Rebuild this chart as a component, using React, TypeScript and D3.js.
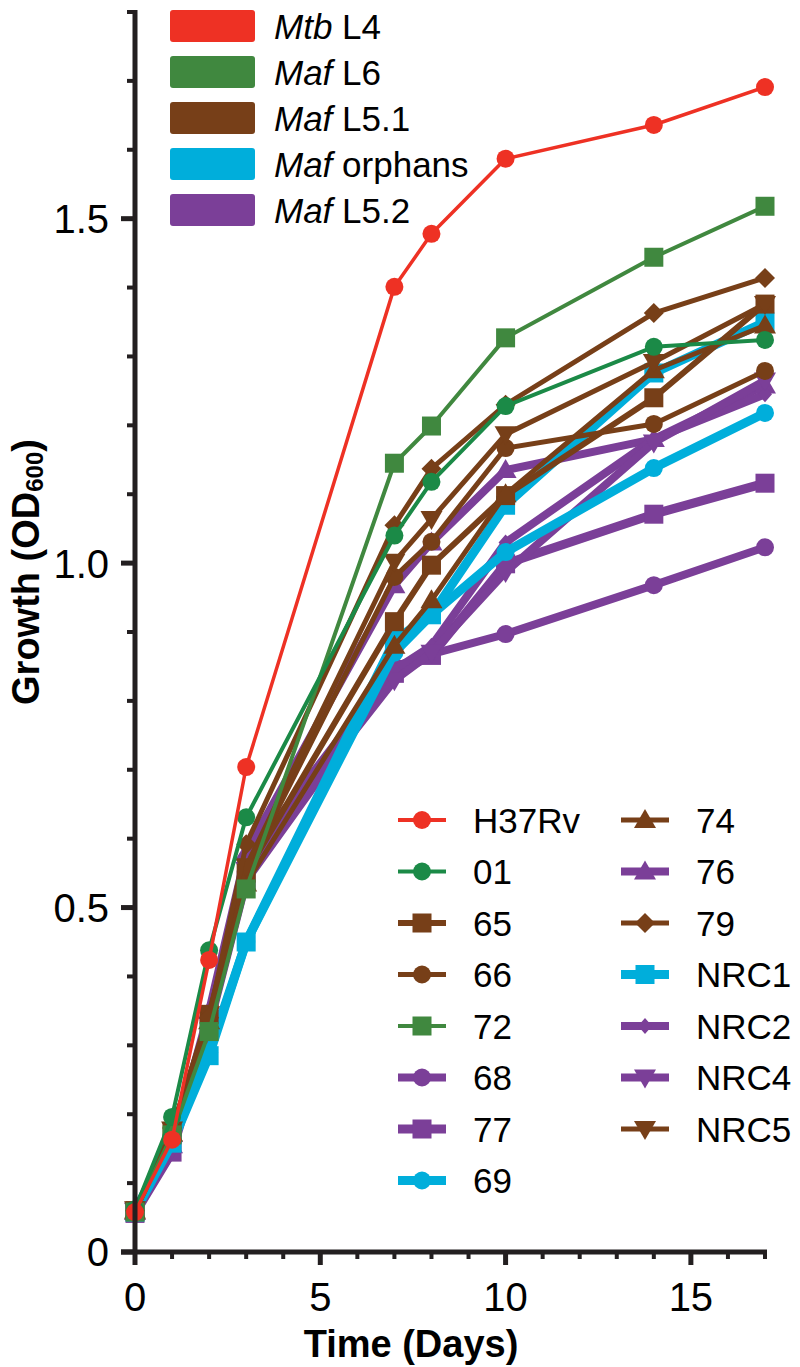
import React from 'react';
import * as d3 from 'd3';

// sampling days
const days = [0, 1, 2, 3, 7, 8, 10, 14, 17];

// OD600 readings per strain
const h37rv = [0.058, 0.163, 0.424, 0.704, 1.401, 1.478, 1.587, 1.636, 1.691];
const s01 = [0.062, 0.196, 0.438, 0.631, 1.04, 1.118, 1.228, 1.314, 1.324];
const s65 = [0.06, 0.175, 0.345, 0.55, 0.915, 0.997, 1.098, 1.24, 1.376];
const s66 = [0.06, 0.178, 0.34, 0.552, 0.98, 1.031, 1.167, 1.202, 1.279];
const s72 = [0.058, 0.17, 0.32, 0.527, 1.145, 1.199, 1.327, 1.444, 1.518];
const s68 = [0.058, 0.15, 0.335, 0.57, 0.85, 0.868, 0.897, 0.968, 1.023];
const s77 = [0.056, 0.145, 0.33, 0.54, 0.84, 0.866, 0.999, 1.071, 1.116];
const s69 = [0.06, 0.16, 0.29, 0.45, 0.87, 0.925, 1.016, 1.138, 1.218];
const s74 = [0.06, 0.172, 0.335, 0.535, 0.88, 0.946, 1.1, 1.28, 1.345];
const s76 = [0.058, 0.155, 0.35, 0.58, 0.968, 1.03, 1.135, 1.18, 1.258];
const s79 = [0.06, 0.18, 0.34, 0.592, 1.055, 1.137, 1.23, 1.363, 1.414];
const nrc1 = [0.058, 0.158, 0.285, 0.45, 0.888, 0.925, 1.084, 1.276, 1.35];
const nrc2 = [0.058, 0.15, 0.345, 0.56, 0.845, 0.88, 1.03, 1.18, 1.245];
const nrc4 = [0.06, 0.15, 0.34, 0.555, 0.83, 0.87, 0.987, 1.175, 1.265];
const nrc5 = [0.062, 0.178, 0.345, 0.56, 1.002, 1.064, 1.187, 1.292, 1.376];

const lineages = [
  { pre: 'Mtb', post: ' L4', color: '#ee3124' },
  { pre: 'Maf', post: ' L6', color: '#40883f' },
  { pre: 'Maf', post: ' L5.1', color: '#773f18' },
  { pre: 'Maf', post: ' orphans', color: '#00aedb' },
  { pre: 'Maf', post: ' L5.2', color: '#7b3f98' },
];

const C = {
  red: '#ee3124',
  green: '#1b8a47',
  green2: '#40883f',
  brown: '#773f18',
  cyan: '#00aedb',
  purple: '#7b3f98',
};

type Shape = 'circle' | 'square' | 'tri' | 'itri' | 'diamond' | 'sdiamond';
type Series = { name: string; values: number[]; color: string; shape: Shape; w: number };

const series: Series[] = [
  { name: 'H37Rv', values: h37rv, color: C.red, shape: 'circle', w: 3.5 },
  { name: '01', values: s01, color: C.green, shape: 'circle', w: 4 },
  { name: '65', values: s65, color: C.brown, shape: 'square', w: 6 },
  { name: '66', values: s66, color: C.brown, shape: 'circle', w: 5 },
  { name: '72', values: s72, color: C.green2, shape: 'square', w: 4 },
  { name: '68', values: s68, color: C.purple, shape: 'circle', w: 8 },
  { name: '77', values: s77, color: C.purple, shape: 'square', w: 9 },
  { name: '69', values: s69, color: C.cyan, shape: 'circle', w: 9 },
  { name: '74', values: s74, color: C.brown, shape: 'tri', w: 5 },
  { name: '76', values: s76, color: C.purple, shape: 'tri', w: 8 },
  { name: '79', values: s79, color: C.brown, shape: 'diamond', w: 5 },
  { name: 'NRC1', values: nrc1, color: C.cyan, shape: 'square', w: 9 },
  { name: 'NRC2', values: nrc2, color: C.purple, shape: 'sdiamond', w: 8 },
  { name: 'NRC4', values: nrc4, color: C.purple, shape: 'itri', w: 8 },
  { name: 'NRC5', values: nrc5, color: C.brown, shape: 'itri', w: 5 },
];

// draw order: purple / cyan underneath, red on top
const drawOrder = ['68', '77', '76', 'NRC2', 'NRC4', '69', 'NRC1', '65', '66', '74', 'NRC5', '79', '72', '01', 'H37Rv'];

const FONT = '"Liberation Sans", Arial, Helvetica, sans-serif';

function marker(shape: Shape, x: number, y: number, color: string, key?: string) {
  switch (shape) {
    case 'circle':
      return <circle key={key} cx={x} cy={y} r={9} fill={color} />;
    case 'square':
      return <rect key={key} x={x - 9.5} y={y - 9.5} width={19} height={19} fill={color} />;
    case 'tri':
      return <path key={key} d={`M${x},${y - 11}L${x + 11},${y + 8}L${x - 11},${y + 8}Z`} fill={color} />;
    case 'itri':
      return <path key={key} d={`M${x},${y + 11}L${x + 11},${y - 8}L${x - 11},${y - 8}Z`} fill={color} />;
    case 'diamond':
      return <path key={key} d={`M${x},${y - 10}L${x + 10},${y}L${x},${y + 10}L${x - 10},${y}Z`} fill={color} />;
    case 'sdiamond':
      return <path key={key} d={`M${x},${y - 8}L${x + 7},${y}L${x},${y + 8}L${x - 7},${y}Z`} fill={color} />;
  }
}

export default function App() {
  const x = d3.scaleLinear().domain([0, 17]).range([135, 765]);
  const y = d3.scaleLinear().domain([0, 1.8]).range([1252, 12]);

  const line = d3
    .line<number>()
    .x((_, i) => x(days[i]))
    .y((d) => y(d));

  const yMinor = d3.range(0, 19).map((i) => i / 10);
  const yMajor = [0, 0.5, 1.0, 1.5];
  const xTicks = d3.range(0, 18);
  const xMajor = [0, 5, 10, 15];

  const ordered = drawOrder.map((n) => series.find((s) => s.name === n)!);
  const col1 = series.slice(0, 8);
  const col2 = series.slice(8);

  return (
    <svg
      width={800}
      height={1367}
      style={{ position: 'absolute', left: 0, top: 0, background: '#fff' }}
      fontFamily={FONT}>
      {/* series */}
      {ordered.map((s) => (
        <g key={s.name}>
          <path d={line(s.values) ?? ''} fill="none" stroke={s.color} strokeWidth={s.w} strokeLinejoin="round" />
          {s.values.map((v, i) => marker(s.shape, x(days[i]), y(v), s.color, `${s.name}-${i}`))}
        </g>
      ))}

      {/* y axis */}
      <line x1={135} x2={135} y1={y(1.8) - 2} y2={1254} stroke="#231f20" strokeWidth={5} />
      {yMinor.map((t) => {
        const major = yMajor.some((m) => Math.abs(m - t) < 1e-6);
        return (
          <line
            key={`yt${t}`}
            x1={major ? 121 : 127}
            x2={135}
            y1={y(t)}
            y2={y(t)}
            stroke="#231f20"
            strokeWidth={major ? 5 : 4}
          />
        );
      })}
      {yMajor.map((t) => (
        <text key={`yl${t}`} x={109} y={y(t)} dy="0.36em" textAnchor="end" fontSize={40} fill="#000">
          {t === 0 ? '0' : t.toFixed(1)}
        </text>
      ))}

      {/* x axis */}
      <line x1={121} x2={767} y1={1252} y2={1252} stroke="#231f20" strokeWidth={5} />
      {xTicks.map((t) => {
        const major = xMajor.includes(t);
        return (
          <line
            key={`xt${t}`}
            x1={x(t)}
            x2={x(t)}
            y1={1252}
            y2={major ? 1265 : 1259}
            stroke="#231f20"
            strokeWidth={major ? 5 : 4}
          />
        );
      })}
      {xMajor.map((t) => (
        <text key={`xl${t}`} x={x(t)} y={1297} dy="0.36em" textAnchor="middle" fontSize={40} fill="#000">
          {t}
        </text>
      ))}

      {/* axis titles */}
      <text x={411} y={1343} dy="0.36em" textAnchor="middle" fontSize={38} fontWeight="bold" fill="#000">
        Time (Days)
      </text>
      <text
        transform="translate(39,572) rotate(-90)"
        textAnchor="middle"
        fontSize={38}
        fontWeight="bold"
        fill="#000">
        Growth (OD
        <tspan fontSize={24} dy={4}>600</tspan>
        <tspan dy={-4}>)</tspan>
      </text>

      {/* lineage legend */}
      {lineages.map((l, i) => (
        <g key={l.post} transform={`translate(0,${10 + i * 46})`}>
          <rect x={170} y={0} width={85} height={32} rx={3} fill={l.color} />
          <text x={274} y={16} dy="0.36em" fontSize={35} fill="#000">
            <tspan fontStyle="italic">{l.pre}</tspan>
            {l.post}
          </text>
        </g>
      ))}

      {/* strain legend */}
      {[col1, col2].map((col, ci) =>
        col.map((s, i) => {
          const lx = ci === 0 ? 398 : 621;
          const cy = 820 + i * 51.5;
          return (
            <g key={`lg${s.name}`}>
              <line x1={lx} x2={lx + 48} y1={cy} y2={cy} stroke={s.color} strokeWidth={Math.max(s.w, 4)} />
              {marker(s.shape, lx + 24, cy, s.color)}
              <text x={lx + 75} y={cy} dy="0.36em" fontSize={35} fill="#000">
                {s.name}
              </text>
            </g>
          );
        }),
      )}
    </svg>
  );
}
